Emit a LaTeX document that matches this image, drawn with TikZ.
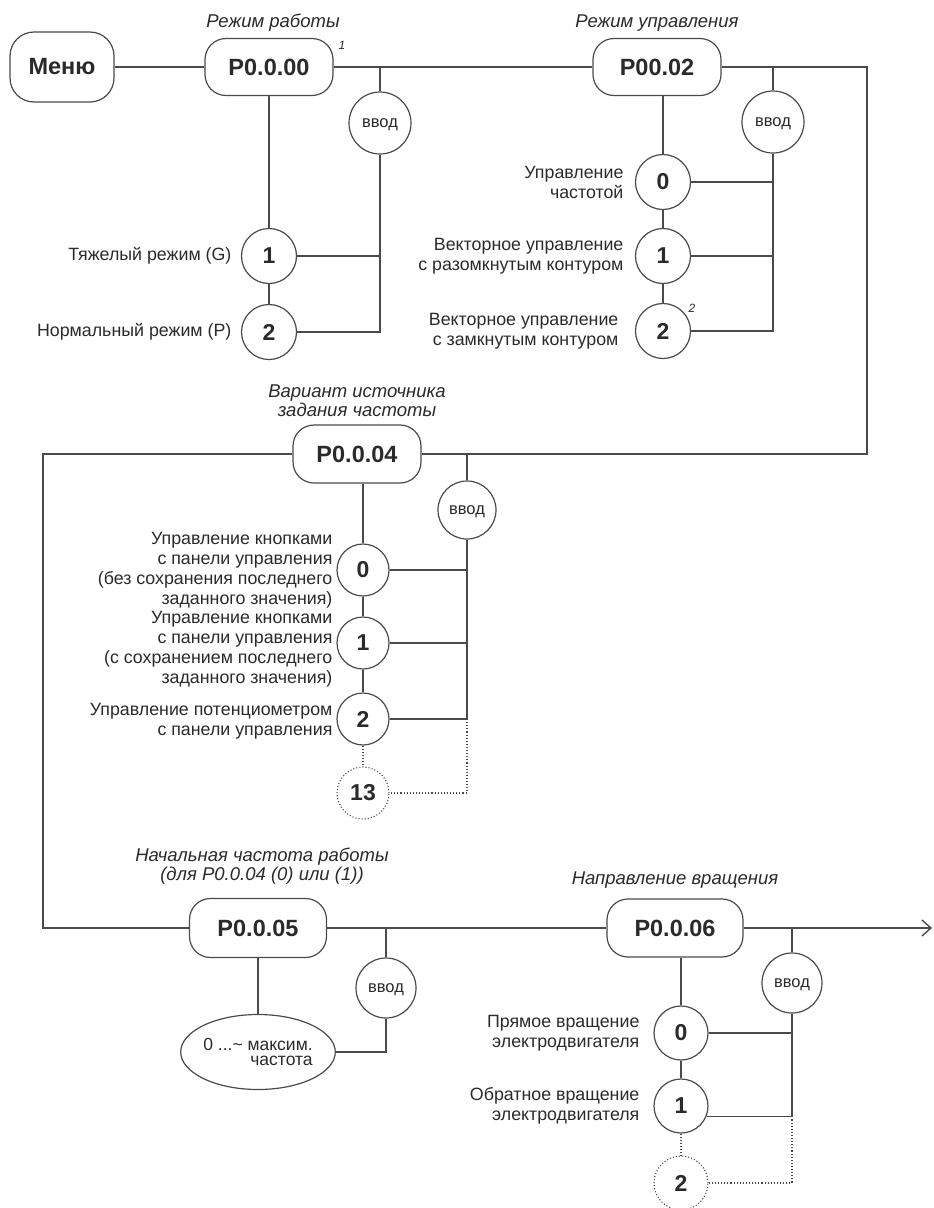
\documentclass[tikz,border=0pt]{standalone}
\usepackage{fontspec}
\setmainfont{Liberation Sans}
\usetikzlibrary{arrows.meta,shapes.geometric,calc}
\definecolor{ln}{HTML}{4A4A4A}
\definecolor{tx}{HTML}{2A2A2A}
\tikzset{
  every node/.style={text=tx},
  pbox/.style={draw=ln, rounded corners=21pt, minimum width=128pt, minimum height=57pt, inner sep=0pt, font=\fontsize{23.5}{25}\selectfont\bfseries},
  opt/.style={draw=ln, circle, minimum size=55pt, inner sep=0pt, font=\fontsize{23}{25}\selectfont\bfseries},
  optdot/.style={opt, dotted, line width=1.1pt},
  vvod/.style={draw=ln, circle, minimum size=62pt, inner sep=0pt, text height=8.5pt, text depth=0pt, font=\fontsize{16.5}{17}\selectfont},
  lbl/.style={anchor=east, align=right, inner sep=0pt, font=\fontsize{17.8}{20}\selectfont},
  captxt/.style={align=center, inner sep=0pt, font=\fontsize{18.5}{19}\selectfont\itshape},
  fn/.style={inner sep=0pt, font=\fontsize{12}{12}\selectfont\itshape},
  conn/.style={draw=ln, line width=1.2pt},
  dconn/.style={draw=ln, line width=1.1pt, dotted}
}
\begin{document}
\begin{tikzpicture}[x=1pt,y=-1pt,line width=1.2pt]
\useasboundingbox (0,0) rectangle (934,1208);

% ---- top row
\node[pbox, minimum width=104pt, minimum height=70pt, rounded corners=24pt] (menu) at (62,67) {Меню};
\node[pbox] (p000) at (269,67) {P0.0.00};
\node[captxt] (cap1) at (273,23) {Режим работы};
\node[fn] (fn1) at (342,45) {1};
\node[vvod] (v1) at (380,123) {ввод};
\node[opt] (a1) at (269,256) {1};
\node[opt] (a2) at (269,332) {2};
\node[lbl] (la1) at (232,256) {Тяжелый режим (G)};
\node[lbl] (la2) at (232,332) {Нормальный режим (P)};

\node[pbox] (p002) at (657,67) {P00.02};
\node[captxt] (cap2) at (657,23) {Режим управления};
\node[vvod] (v2) at (773,122) {ввод};
\node[opt] (b0) at (663,182) {0};
\node[opt] (b1) at (663,256) {1};
\node[opt] (b2) at (663,331) {2};
\node[fn] (fn2) at (692,308) {2};
\node[lbl] (lb0) at (624,182) {Управление\\частотой};
\node[lbl] (lb1) at (624,256) {Векторное управление\\с разомкнутым контуром};
\node[lbl] (lb2) at (619,331) {Векторное управление\\с замкнутым контуром};
\coordinate (R) at (867,454);

% ---- middle
\node[pbox, minimum height=58pt] (p004) at (357,454) {P0.0.04};
\node[captxt] (cap3) at (357,401) {Вариант источника\\задания частоты};
\node[vvod, minimum size=58pt] (v3) at (467,510) {ввод};
\node[opt, minimum size=52pt] (c0) at (363,570) {0};
\node[opt, minimum size=52pt] (c1) at (363,643) {1};
\node[opt, minimum size=52pt] (c2) at (363,719) {2};
\node[optdot, minimum size=52pt] (c13) at (363,793) {13};
\node[lbl] (lc0) at (333,570) {Управление кнопками\\с панели управления\\(без сохранения последнего\\заданного значения)};
\node[lbl] (lc1) at (333,649) {Управление кнопками\\с панели управления\\(с сохранением последнего\\заданного значения)};
\node[lbl] (lc2) at (333,721) {Управление потенциометром\\с панели управления};
\coordinate (L) at (43,454);

% ---- bottom
\node[pbox, minimum width=137pt, minimum height=59pt] (p005) at (258,928) {P0.0.05};
\node[captxt] (cap4) at (262,866) {Начальная частота работы\\(для P0.0.04 (0) или (1))};
\node[vvod, minimum size=60pt] (v4) at (386,988) {ввод};
\node[draw=ln, ellipse, minimum width=152pt, minimum height=75pt, inner sep=0pt, align=right, font=\fontsize{17.5}{15.5}\selectfont] (e) at (258,1052) {0 ...\textasciitilde{} максим.\\частота};

\node[pbox, minimum width=136pt, minimum height=58pt] (p006) at (675,928) {P0.0.06};
\node[captxt] (cap5) at (675,880) {Направление вращения};
\node[vvod, minimum size=60pt] (v5) at (792,983) {ввод};
\node[opt, minimum size=54pt] (d0) at (681,1033) {0};
\node[opt, minimum size=54pt] (d1) at (681,1106) {1};
\node[optdot, minimum size=54pt] (d2) at (681,1183) {2};
\node[lbl] (ld0) at (640,1033) {Прямое вращение\\электродвигателя};
\node[lbl] (ld1) at (640,1106) {Обратное вращение\\электродвигателя};
\coordinate (end) at (932,928);

% ---- connectors top
\draw[conn] (menu) -- (p000);
\draw[conn] (p000) -- (p002);
\draw[conn] (v1) -- (v1 |- p000);
\draw[conn] (p000) -- (a1);
\draw[conn] (a1) -- (a2);
\draw[conn] (a1) -- (a1 -| v1);
\draw[conn] (a2) -- (a2 -| v1) -- (v1);
\draw[conn] (p002) -| (R) -- (p004);
\draw[conn] (v2) -- (v2 |- p002);
\draw[conn] (b0 |- p002.south) -- (b0);
\draw[conn] (b0) -- (b1);
\draw[conn] (b1) -- (b2);
\draw[conn] (b0) -- (b0 -| v2);
\draw[conn] (b1) -- (b1 -| v2);
\draw[conn] (b2) -- (b2 -| v2) -- (v2);

% ---- connectors middle
\draw[conn] (p004) -- (L) |- (p005);
\draw[conn] (v3) -- (v3 |- p004);
\draw[conn] (c0 |- p004.south) -- (c0);
\draw[conn] (c0) -- (c1);
\draw[conn] (c1) -- (c2);
\draw[dconn] (c2) -- (c13);
\draw[conn] (c0) -- (c0 -| v3);
\draw[conn] (c1) -- (c1 -| v3);
\draw[conn] (c2) -- (c2 -| v3) -- (v3);
\draw[dconn] (c2 -| v3) |- (c13);

% ---- connectors bottom
\draw[conn] (p005) -- (p006);
\draw[conn] (v4) -- (v4 |- p005);
\draw[conn] (p005) -- (e);
\draw[conn] (e) -| (v4);
\draw[conn, -{Straight Barb[length=9pt,width=16pt,line width=1.4pt]}] (p006) -- (end);
\draw[conn] (v5) -- (v5 |- p006);
\draw[conn] (p006.south -| d0) -- (d0);
\draw[conn] (d0) -- (d1);
\draw[dconn] (d1) -- (d2);
\draw[conn] (d0) -- (d0 -| v5);
\draw[conn] (d1.-22) -- (d1.-22 -| v5) -- (v5);
\draw[dconn] (d1.-22 -| v5) |- (d2);
\end{tikzpicture}
\end{document}
